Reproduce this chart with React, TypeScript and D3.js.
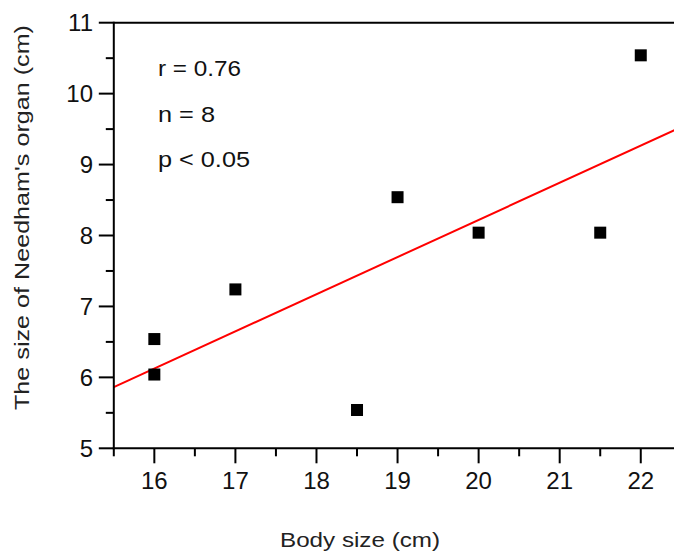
import React from "react";
import * as d3 from "d3";

const bodySize = [16, 16, 17, 18.5, 19, 20, 21.5, 22];
const organSize = [6.54, 6.04, 7.24, 5.54, 8.54, 8.04, 8.04, 10.54];
const xTicks = [16, 17, 18, 19, 20, 21, 22];
const xMinorTicks = [15.5, 16.5, 17.5, 18.5, 19.5, 20.5, 21.5, 22.5];
const yTicks = [5, 6, 7, 8, 9, 10, 11];
const yMinorTicks = [5.5, 6.5, 7.5, 8.5, 9.5, 10.5];
const statLabels = ["r = 0.76", "n = 8", "p < 0.05"];
const statWidths = [83, 57, 92];
const xTitle = "Body size (cm)";
const yTitle = "The size of Needham's organ (cm)";

const W = 674;
const H = 554;
const FONT = "'Liberation Sans', Arial, Helvetica, sans-serif";

export default function App() {
  const x = d3.scaleLinear().domain([15.5, 22.5]).range([113.8, 681.3]);
  const y = d3.scaleLinear().domain([5, 11]).range([448.3, 22.7]);

  // least squares fit from data
  const mx = d3.mean(bodySize)!;
  const my = d3.mean(organSize)!;
  const sxy = d3.sum(bodySize.map((v, i) => (v - mx) * (organSize[i] - my)));
  const sxx = d3.sum(bodySize.map((v) => (v - mx) * (v - mx)));
  const slope = sxy / sxx;
  const intercept = my - slope * mx;
  const fitX = x.domain();
  const line = d3
    .line<number>()
    .x((d) => x(d))
    .y((d) => y(intercept + slope * d));

  const x0 = x(15.5);
  const yb = y(5);
  const yt = y(11);

  return (
    <svg
      width={W}
      height={H}
      style={{ position: "absolute", left: 0, top: 0, background: "#fff" }}
      fontFamily={FONT}
    >
      <defs>
        <clipPath id="plot">
          <rect x={x0} y={yt - 2} width={W - x0} height={yb - yt + 4} />
        </clipPath>
      </defs>
      {/* regression line */}
      <path
        d={line(fitX) || ""}
        stroke="#ff0000"
        strokeWidth={2}
        fill="none"
        clipPath="url(#plot)"
      />
      {/* points */}
      {bodySize.map((v, i) => (
        <rect
          key={i}
          x={x(v) - 6}
          y={y(organSize[i]) - 6}
          width={12}
          height={12}
          fill="#000"
        />
      ))}
      {/* axes */}
      <line x1={x0} x2={W} y1={yt} y2={yt} stroke="#000" strokeWidth={2} />
      <line x1={x0} x2={x0} y1={yt - 1} y2={yb + 1} stroke="#000" strokeWidth={2} />
      <line x1={x0 - 1} x2={W} y1={yb} y2={yb} stroke="#000" strokeWidth={2} />
      {/* y ticks */}
      {yTicks.map((t) => (
        <g key={"yt" + t}>
          <line x1={x0 - 15} x2={x0} y1={y(t)} y2={y(t)} stroke="#000" strokeWidth={2} />
          <text
            x={93}
            y={y(t)}
            textAnchor="end"
            dominantBaseline="central"
            fontSize={24}
            fill="#111"
          >
            {t}
          </text>
        </g>
      ))}
      {yMinorTicks.map((t) => (
        <line key={"ym" + t} x1={x0 - 8} x2={x0} y1={y(t)} y2={y(t)} stroke="#000" strokeWidth={2} />
      ))}
      {/* x ticks */}
      {xTicks.map((t) => (
        <g key={"xt" + t}>
          <line x1={x(t)} x2={x(t)} y1={yb} y2={yb + 15} stroke="#000" strokeWidth={2} />
          <text x={x(t)} y={489} textAnchor="middle" fontSize={24} fill="#111">
            {t}
          </text>
        </g>
      ))}
      {xMinorTicks.map((t) => (
        <line key={"xm" + t} x1={x(t)} x2={x(t)} y1={yb} y2={yb + 8} stroke="#000" strokeWidth={2} />
      ))}
      {/* stats */}
      {statLabels.map((s, i) => (
        <text
          key={s}
          x={158}
          y={76 + i * 45.5}
          fontSize={22}
          fill="#111"
          textLength={statWidths[i]}
          lengthAdjust="spacingAndGlyphs"
        >
          {s}
        </text>
      ))}
      {/* titles */}
      <text
        x={280}
        y={547}
        fontSize={21}
        fill="#222"
        textLength={160}
        lengthAdjust="spacingAndGlyphs"
      >
        {xTitle}
      </text>
      <text
        transform="translate(28.5,410) rotate(-90)"
        x={0}
        y={0}
        fontSize={21}
        fill="#222"
        textLength={385}
        lengthAdjust="spacingAndGlyphs"
      >
        {yTitle}
      </text>
    </svg>
  );
}
